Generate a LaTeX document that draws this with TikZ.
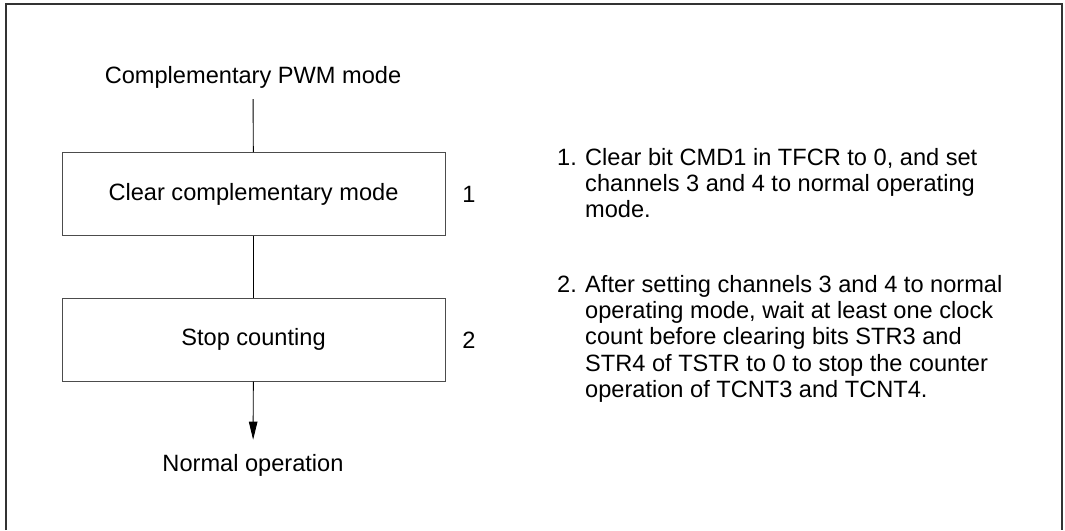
\documentclass[tikz,border=0pt]{standalone}
\usepackage{fontspec}
\setmainfont{Liberation Sans}
\usetikzlibrary{arrows.meta}

\begin{document}
\begin{tikzpicture}[x=1pt, y=-1pt,
    every node/.style={font=\fontsize{23.6}{26.4}\selectfont},
    stepbox/.style={draw=black!70, line width=1pt, minimum width=383pt, minimum height=83pt, inner sep=0pt},
    flow/.style={line width=0.9pt},
    flowarrow/.style={line width=0.9pt, -{Triangle[length=18pt, width=8.5pt]}}]

  % Fixed page size
  \useasboundingbox (0,0) rectangle (1065,530);

  % Outer frame (bottom edge runs off the page)
  \draw[black!80, line width=1.2pt] (6,530) -- (6,4) -- (1062,4) -- (1062,530);

  % Flow chart
  \node[anchor=base, inner ysep=11pt] (start) at (253,83) {Complementary PWM mode};
  \node[stepbox] (clear) at (253.5,194) {Clear complementary mode};
  \node[stepbox] (stop) at (253.5,339.5) {Stop counting};
  \node[anchor=base, inner ysep=14pt] (normal) at (253,471) {Normal operation};

  \draw[flow] (start) -- (clear);
  \draw[flow] (clear) -- (stop);
  \draw[flowarrow] (stop) -- (normal);

  % Step numbers
  \node (num1) at (469,194) {1};
  \node (num2) at (469,340) {2};

  % Notes (base = baseline of the last line)
  \node[anchor=base west, inner sep=0pt] (note1num) at (557,165) {1.};
  \node[anchor=base west, inner sep=0pt, align=left] (note1) at (585,217.8)
    {Clear bit CMD1 in TFCR to 0, and set\\
     channels 3 and 4 to normal operating\\
     mode.};
  \node[anchor=base west, inner sep=0pt] (note2num) at (557,292) {2.};
  \node[anchor=base west, inner sep=0pt, align=left] (note2) at (585,397.6)
    {After setting channels 3 and 4 to normal\\
     operating mode, wait at least one clock\\
     count before clearing bits STR3 and\\
     STR4 of TSTR to 0 to stop the counter\\
     operation of TCNT3 and TCNT4.};

\end{tikzpicture}
\end{document}
